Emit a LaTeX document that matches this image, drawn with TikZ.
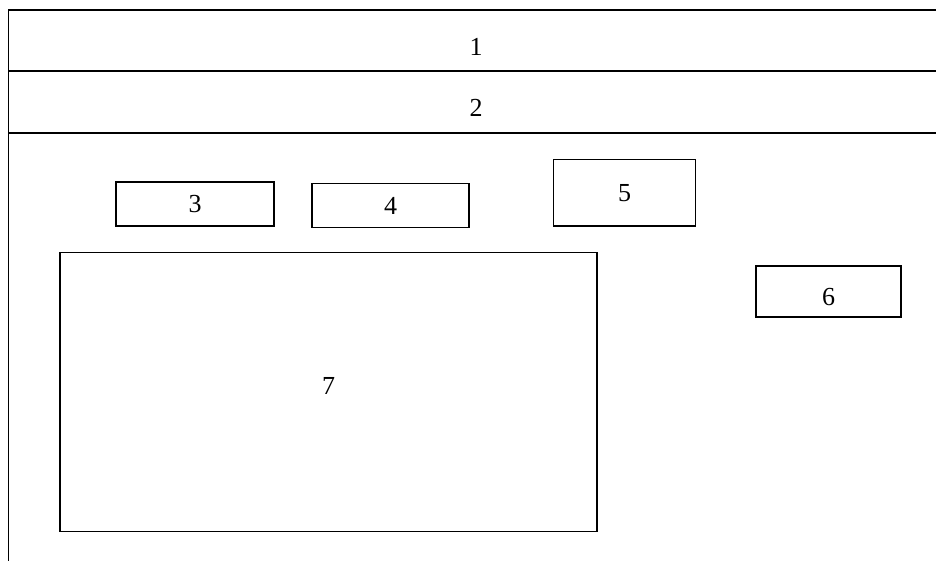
\documentclass[tikz,border=0pt]{standalone}
\usepackage{fontspec}
\setmainfont{Liberation Serif}
\usepackage{tikz}

\begin{document}
\begin{tikzpicture}[
    x=1pt, y=-1pt,
    every node/.style={font=\fontsize{26}{30}\selectfont},
    frame/.style={rectangle, draw=black, line width=1.8pt, inner sep=0pt, minimum width=935pt, minimum height=600pt},
    band/.style={rectangle, draw=black, line width=1.8pt, inner sep=0pt, minimum width=935pt, text height=30pt, text depth=0pt},
    component/.style={rectangle, draw=black, line width=1.6pt, inner sep=0pt, fill=white},
]
    \useasboundingbox (0, 0) rectangle (936, 561);

    \node(frame)[frame] at (476, 310) {};
    \node(row1)[band, minimum height=61pt] at (476, 40.5) {1};
    \node(row2)[band, minimum height=62pt] at (476, 102) {2};

    \node(box3)[component, minimum width=158pt, minimum height=44pt] at (195, 204) {3};
    \node(box4)[component, minimum width=157pt, minimum height=44pt] at (390.5, 205.5) {4};
    \node(box5)[component, minimum width=142pt, minimum height=66.5pt] at (624.5, 192.75) {5};
    \node(box6)[component, minimum width=145pt, minimum height=51pt, text height=27pt, text depth=0pt] at (828.5, 291.5) {6};
    \node(box7)[component, minimum width=537pt, minimum height=279pt, text depth=12pt] at (328.5, 392) {7};
\end{tikzpicture}
\end{document}
